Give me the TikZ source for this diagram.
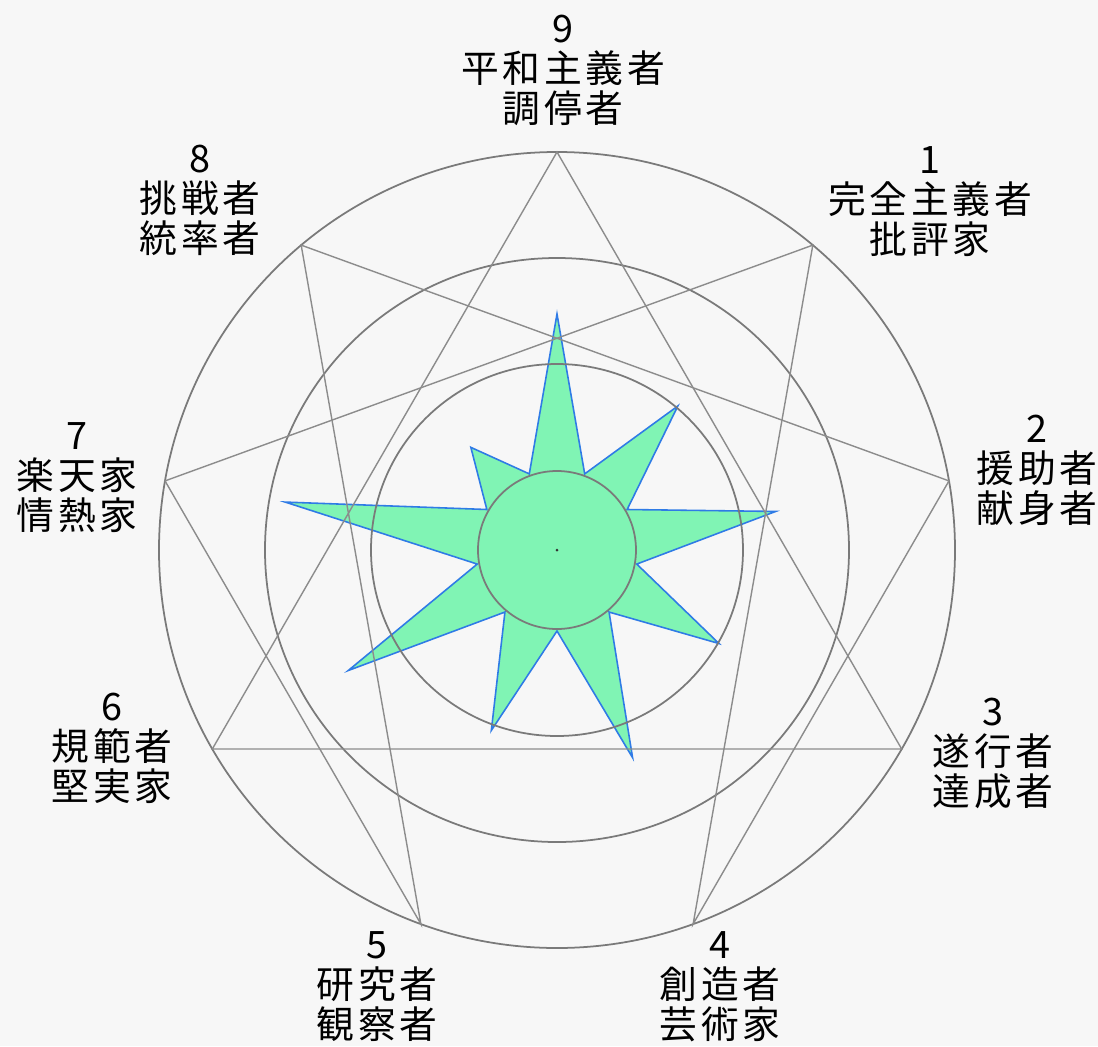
\documentclass[tikz,border=0pt]{standalone}
\usepackage{fontspec}
\setmainfont{Noto Sans CJK JP}[LetterSpace=10]
\definecolor{paper}{HTML}{F7F7F7}
\definecolor{ringgray}{HTML}{7A7A7A}
\definecolor{linegray}{HTML}{8C8C8C}
\definecolor{spikegreen}{HTML}{80F4B4}
\definecolor{spikeblue}{HTML}{2F7BE6}
\tikzset{
    ring/.style={draw=ringgray, line width=1pt},
    chord/.style={draw=linegray, line width=0.8pt},
    typename/.style={align=center, text=black, inner sep=0pt,
        font=\fontsize{21.5}{22.8}\selectfont}
}
\begin{document}
\begin{tikzpicture}[x=0.02cm, y=0.02cm]
    \fill[paper] (-557,-496) rectangle (541,550);
    \useasboundingbox (-557,-496) rectangle (541,550);
    %Star
    \filldraw[fill=spikegreen, draw=spikeblue, line width=0.9pt]
        (90:236) -- (70:81) -- (50:188) -- (30:81) -- (10:222) -- (-10:81)
        -- (-30:187) -- (-50:81) -- (-70:221) -- (-90:81) -- (-110:192)
        -- (-130:81) -- (-150:241) -- (-170:81) -- (170:276) -- (150:81)
        -- (130:134) -- (110:81) -- cycle;
    %Rings
    \draw[ring] (0,0) circle (398);
    \draw[ring] (0,0) circle (292);
    \draw[ring] (0,0) circle (186);
    %Points
    \foreach \n/\a in {9/90,1/50,2/10,3/-30,4/-70,5/-110,6/-150,7/170,8/130}
        \coordinate (p\n) at (\a:398);
    %Lines
    \draw[chord] (p9) -- (p3) -- (p6) -- cycle;
    \draw[chord] (p1) -- (p4) -- (p2) -- (p8) -- (p5) -- (p7) -- cycle;
    \filldraw[fill=spikegreen, ring] (0,0) circle (79);
    \fill[black!80] (0,0) circle (1.5);
    %Labels
    \node[typename] (t9) at (6,480) {9\\平和主義者\\調停者};
    \node[typename] (t1) at (373,348) {1\\完全主義者\\批評家};
    \node[typename] (t2) at (480,80) {2\\援助者\\献身者};
    \node[typename] (t3) at (436,-203) {3\\遂行者\\達成者};
    \node[typename] (t4) at (163,-437) {4\\創造者\\芸術家};
    \node[typename] (t5) at (-180,-437) {5\\研究者\\観察者};
    \node[typename] (t6) at (-445,-198) {6\\規範者\\堅実家};
    \node[typename] (t7) at (-480,72) {7\\楽天家\\情熱家};
    \node[typename] (t8) at (-357,350) {8\\挑戦者\\統率者};
\end{tikzpicture}
\end{document}
